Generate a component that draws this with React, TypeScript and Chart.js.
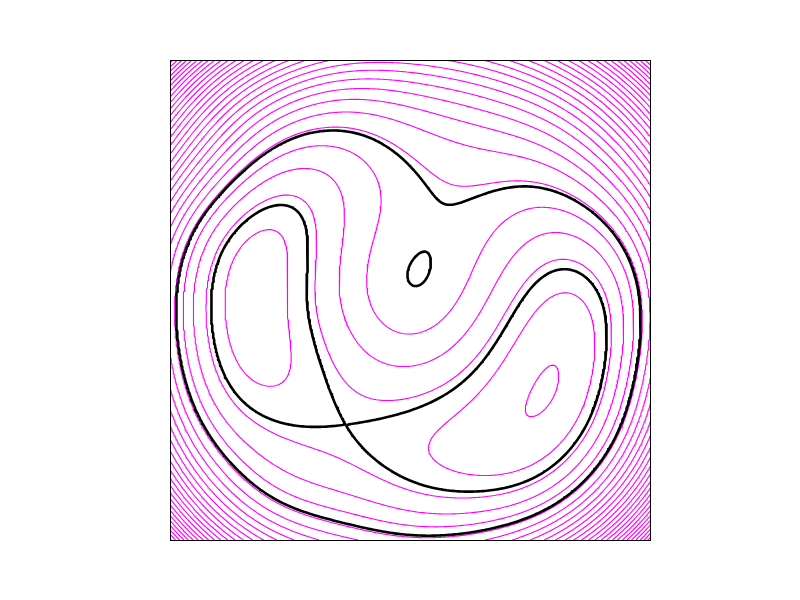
import { useEffect, useRef } from "react";
import { Chart, registerables } from "chart.js";

Chart.register(...registerables);

// Plot units: x 0..481 (left -> right), y 0..480 (bottom -> top)
const PLOT_W = 481;
const PLOT_H = 480;

// ---- contour samples ----
const blackLevels = [1.6, 4.8];
const magentaLevels = [0, 1, 2, 3, 4, 5, 6, 7, 8, 9, 10, 11, 12, 13, 14, 15, 16, 17, 18, 19, 20,
  21, 22, 23, 24, 25, 26, 27, 28, 29, 30, 31, 32, 33, 34, 35, 36, 37, 38, 39, 40, 41, 42, 43, 44, 45];

const outerBlackTrace = [[7,240],[10,183],[20,140],[40,100],[73,63],[123,30],[173,13],[240,6],[297,10],
  [363,27],[413,63],[447,110],[463,167],[468,217],[467,250],[453,283],[437,310],[413,333],[380,350],
  [347,353],[313,348],[283,341],[273,343],[260,357],[237,380],[210,397],[177,407],[157,408],[113,395],
  [80,373],[50,340],[27,303],[13,273]];
const bumpLoopTrace = [[257,287],[260,267],[253,255],[242,252],[238,267],[247,280]];
const figureEightTrace = [[137,240],[137,290],[130,317],[117,327],[90,330],[63,320],[50,303],[40,270],
  [38,240],[43,200],[63,150],[97,123],[140,112],[170,122],[157,140],[147,173],[140,217],
  [210,120],[243,130],[277,147],[310,177],[343,220],[370,257],[393,270],[417,263],[433,240],[438,207],
  [435,157],[417,107],[393,70],[363,57],[313,46],[280,47],[243,50],[203,73],[183,93]];
const magenta0Trace = [[387,177],[393,168],[387,150],[365,137],[363,150],[373,167]];
const magenta1LeftTrace = [[92,298],[110,287],[113,253],[113,187],[105,160],[92,157],[72,180],[55,230],[62,277],[78,297]];
const magenta1RightTrace = [[380,238],[410,230],[423,200],[417,150],[390,107],[347,80],[297,67],[263,77],
  [257,90],[270,110],[303,140],[340,190],[363,223]];
const magenta2Trace = [[143,240],[153,173],[170,147],[203,137],[260,153],[310,190],[350,247],[373,273],
  [393,278],[417,272],[437,250],[442,223],[90,337],[33,240],[110,108],[143,100],[177,87],[210,67],[240,45]];
const magenta3Trace = [[172,240],[170,270],[172,337],[160,363],[110,367],[177,207],[203,180],[240,175],
  [280,190],[313,240],[350,290],[377,305],[400,307],[423,293],[443,267],[450,240],[23,240],[110,83],
  [160,63],[210,43],[240,30],[430,105],[48,137]];
const magenta4Trace = [[200,240],[207,223],[237,208],[260,213],[286,240],[303,277],[323,310],[350,330],
  [383,332],[417,320],[440,300],[457,273],[462,240],[200,270],[207,303],[210,353],[197,377],[110,387],
  [15,240],[240,17],[440,107],[38,128]];
const magenta5Trace = [[157,412],[230,393],[280,360],[472,240],[5,240],[240,2]];

const ringLevelsA = [6, 7, 8, 9, 10, 11, 12];
const ringYAtX160 = [428, 440, 450, 458, 466, 473, 478];
const ringLevelsB = [6, 7, 8, 9, 10, 11];
const ringYAtX230 = [420, 437, 448, 458, 468, 477];

const cornerX = [0, 481, 0, 481];
const cornerY = [480, 480, 0, 0];
const cornerLevel = [30, 30, 26, 26];

// minima, saddle between lobes, small summit, saddle near the notch
const criticalX = [86, 378, 176, 249, 265];
const criticalY = [228, 157, 115, 268, 312];
const criticalLevel = [0.5, -0.05, 1.6, 4.9, 4.76];
const criticalSlopeWeight = [0.5, 0.5, 2.5, 0.8, 0.8];

// ---- smooth surface through the samples ----
const POLY: number[][] = [];
for (let d = 0; d <= 3; d++) for (let b = 0; b <= d; b++) POLY.push([d - b, b]);
const RBF_STEP = [-0.9, -0.6, -0.3, 0, 0.3, 0.6, 0.9];
const RBF: number[][] = [];
for (const cu of RBF_STEP) for (const cv of RBF_STEP) RBF.push([cu, cv]);
const SIG2 = 2 * 0.22 * 0.22;
const NP = POLY.length + 1; // + isotropic quartic
const NB = NP + RBF.length;

const toU = (x: number) => (x - PLOT_W / 2) / (PLOT_W / 2);
const toV = (y: number) => (y - PLOT_H / 2) / (PLOT_H / 2);

function feat(u: number, v: number, mode: number): Float64Array {
  const f = new Float64Array(NB);
  let k = 0;
  for (const [a, b] of POLY) {
    if (mode === 0) f[k] = Math.pow(u, a) * Math.pow(v, b);
    else if (mode === 1) f[k] = a === 0 ? 0 : a * Math.pow(u, a - 1) * Math.pow(v, b);
    else f[k] = b === 0 ? 0 : b * Math.pow(u, a) * Math.pow(v, b - 1);
    k++;
  }
  const r2 = u * u + v * v;
  f[k++] = mode === 0 ? r2 * r2 : mode === 1 ? 4 * u * r2 : 4 * v * r2;
  for (const [cu, cv] of RBF) {
    const du = u - cu, dv = v - cv;
    const g = Math.exp(-(du * du + dv * dv) / SIG2);
    if (mode === 0) f[k] = g;
    else if (mode === 1) f[k] = g * (-2 * du / SIG2);
    else f[k] = g * (-2 * dv / SIG2);
    k++;
  }
  return f;
}

function solve(A: number[][], b: number[]): number[] {
  const n = b.length;
  const M = A.map((r, i) => [...r, b[i]]);
  for (let c = 0; c < n; c++) {
    let p = c;
    for (let r = c + 1; r < n; r++) if (Math.abs(M[r][c]) > Math.abs(M[p][c])) p = r;
    [M[c], M[p]] = [M[p], M[c]];
    const piv = M[c][c] || 1e-12;
    for (let r = c + 1; r < n; r++) {
      const f = M[r][c] / piv;
      if (f === 0) continue;
      for (let k = c; k <= n; k++) M[r][k] -= f * M[c][k];
    }
  }
  const x = new Array(n).fill(0);
  for (let r = n - 1; r >= 0; r--) {
    let s = M[r][n];
    for (let k = r + 1; k < n; k++) s -= M[r][k] * x[k];
    x[r] = s / (M[r][r] || 1e-12);
  }
  return x;
}

function fitField(): number[] {
  const rows: { f: Float64Array; t: number; w: number }[] = [];
  const add = (pts: number[][], z: number, w = 1) =>
    pts.forEach(([x, y]) => rows.push({ f: feat(toU(x), toV(y), 0), t: z, w }));
  add(outerBlackTrace, blackLevels[1]);
  add(bumpLoopTrace, blackLevels[1]);
  add(figureEightTrace, blackLevels[0]);
  add(magenta0Trace, 0);
  add(magenta1LeftTrace, 1);
  add(magenta1RightTrace, 1);
  add(magenta2Trace, 2);
  add(magenta3Trace, 3);
  add(magenta4Trace, 4);
  add(magenta5Trace, 5);
  ringLevelsA.forEach((lv, k) => add([[160, ringYAtX160[k]]], lv));
  ringLevelsB.forEach((lv, k) => add([[230, ringYAtX230[k]]], lv));
  cornerLevel.forEach((lv, k) => add([[cornerX[k], cornerY[k]]], lv, 0.3));
  criticalLevel.forEach((lv, k) => {
    const u = toU(criticalX[k]), v = toV(criticalY[k]);
    const ws = criticalSlopeWeight[k];
    rows.push({ f: feat(u, v, 0), t: lv, w: 3 });
    rows.push({ f: feat(u, v, 1), t: 0, w: ws });
    rows.push({ f: feat(u, v, 2), t: 0, w: ws });
  });
  const A: number[][] = Array.from({ length: NB }, () => new Array(NB).fill(0));
  const b = new Array(NB).fill(0);
  for (const r of rows) {
    const w2 = r.w * r.w;
    for (let i = 0; i < NB; i++) {
      const fi = r.f[i] * w2;
      if (fi === 0) continue;
      b[i] += fi * r.t;
      for (let j = 0; j < NB; j++) A[i][j] += fi * r.f[j];
    }
  }
  for (let i = 0; i < NB; i++) A[i][i] += i < NP ? 1e-8 : 0.05;
  return solve(A, b);
}

function fieldAt(c: number[], x: number, y: number): number {
  const f = feat(toU(x), toV(y), 0);
  let s = 0;
  for (let i = 0; i < NB; i++) s += c[i] * f[i];
  return s;
}

const NX = 240;
const NY = 240;

function contourLines(z: Float64Array, level: number): { x: number; y: number }[][] {
  const W = NX + 1;
  const dx = PLOT_W / NX, dy = PLOT_H / NY;
  const pts = new Map<number, [number, number]>();
  const segA: number[] = [];
  const segB: number[] = [];
  const hId = (i: number, j: number) => 2 * (j * W + i);
  const vId = (i: number, j: number) => 2 * (j * W + i) + 1;
  for (let j = 0; j < NY; j++) {
    for (let i = 0; i < NX; i++) {
      const v00 = z[j * W + i], v10 = z[j * W + i + 1];
      const v01 = z[(j + 1) * W + i], v11 = z[(j + 1) * W + i + 1];
      const b0 = v00 > level, b1 = v10 > level, b2 = v11 > level, b3 = v01 > level;
      const e = [-1, -1, -1, -1];
      if (b0 !== b1) { const id = hId(i, j); if (!pts.has(id)) pts.set(id, [(i + (level - v00) / (v10 - v00)) * dx, j * dy]); e[0] = id; }
      if (b1 !== b2) { const id = vId(i + 1, j); if (!pts.has(id)) pts.set(id, [(i + 1) * dx, (j + (level - v10) / (v11 - v10)) * dy]); e[1] = id; }
      if (b3 !== b2) { const id = hId(i, j + 1); if (!pts.has(id)) pts.set(id, [(i + (level - v01) / (v11 - v01)) * dx, (j + 1) * dy]); e[2] = id; }
      if (b0 !== b3) { const id = vId(i, j); if (!pts.has(id)) pts.set(id, [i * dx, (j + (level - v00) / (v01 - v00)) * dy]); e[3] = id; }
      const present = e.filter((q) => q >= 0);
      if (present.length === 2) { segA.push(present[0]); segB.push(present[1]); }
      else if (present.length === 4) {
        const center = (v00 + v10 + v11 + v01) / 4 > level;
        const cutV10V01 = b0 ? center : !center;
        if (cutV10V01) { segA.push(e[0]); segB.push(e[1]); segA.push(e[2]); segB.push(e[3]); }
        else { segA.push(e[3]); segB.push(e[0]); segA.push(e[1]); segB.push(e[2]); }
      }
    }
  }
  const byEdge = new Map<number, number[]>();
  const link = (id: number, s: number) => { const l = byEdge.get(id); if (l) l.push(s); else byEdge.set(id, [s]); };
  for (let s = 0; s < segA.length; s++) { link(segA[s], s); link(segB[s], s); }
  const used = new Uint8Array(segA.length);
  const lines: { x: number; y: number }[][] = [];
  const walk = (start: number): number[] => {
    const out: number[] = [];
    let cur = start;
    for (;;) {
      const l = byEdge.get(cur) || [];
      let nxt = -1;
      for (const s of l) if (!used[s]) { nxt = s; break; }
      if (nxt < 0) break;
      used[nxt] = 1;
      cur = segA[nxt] === cur ? segB[nxt] : segA[nxt];
      out.push(cur);
    }
    return out;
  };
  for (let s = 0; s < segA.length; s++) {
    if (used[s]) continue;
    used[s] = 1;
    const fwd = walk(segB[s]);
    const bwd = walk(segA[s]);
    const ids = [...bwd.reverse(), segA[s], segB[s], ...fwd];
    lines.push(ids.map((id) => { const p = pts.get(id)!; return { x: p[0], y: p[1] }; }));
  }
  return lines;
}

function saddleValue(c: number[], x0: number, y0: number): number {
  let x = x0, y = y0;
  const h = 0.5;
  const f = (a: number, b: number) => fieldAt(c, a, b);
  for (let it = 0; it < 30; it++) {
    const fx = (f(x + h, y) - f(x - h, y)) / (2 * h);
    const fy = (f(x, y + h) - f(x, y - h)) / (2 * h);
    const fxx = (f(x + h, y) - 2 * f(x, y) + f(x - h, y)) / (h * h);
    const fyy = (f(x, y + h) - 2 * f(x, y) + f(x, y - h)) / (h * h);
    const fxy = (f(x + h, y + h) - f(x + h, y - h) - f(x - h, y + h) + f(x - h, y - h)) / (4 * h * h);
    const det = fxx * fyy - fxy * fxy;
    if (Math.abs(det) < 1e-12) break;
    let sx = (fyy * fx - fxy * fy) / det;
    let sy = (fxx * fy - fxy * fx) / det;
    const m = Math.hypot(sx, sy);
    if (m > 10) { sx *= 10 / m; sy *= 10 / m; }
    x -= sx; y -= sy;
    if (m < 1e-4) break;
  }
  if (Math.hypot(x - x0, y - y0) > 40) return blackLevels[0];
  return f(x, y) + 1e-6;
}

export default function App() {
  const ref = useRef<HTMLCanvasElement>(null);
  useEffect(() => {
    const coef = fitField();
    const W = NX + 1;
    const grid = new Float64Array((NX + 1) * (NY + 1));
    for (let j = 0; j <= NY; j++)
      for (let i = 0; i <= NX; i++)
        grid[j * W + i] = fieldAt(coef, (i * PLOT_W) / NX, (j * PLOT_H) / NY);

    const blackDraw = [saddleValue(coef, criticalX[2], criticalY[2]), blackLevels[1]];
    const datasets: any[] = [];
    for (const L of magentaLevels) {
      for (const line of contourLines(grid, L)) {
        datasets.push({
          data: line, showLine: true, borderColor: "#ff00ff", borderWidth: 1.1,
          pointRadius: 0, fill: false, tension: 0, order: 1,
        });
      }
    }
    for (const L of blackDraw) {
      for (const line of contourLines(grid, L)) {
        datasets.push({
          data: line, showLine: true, borderColor: "#000000", borderWidth: 2.6,
          pointRadius: 0, fill: false, tension: 0, order: 0,
          borderJoinStyle: "round", borderCapStyle: "round",
        });
      }
    }
    const frame = {
      id: "frame",
      afterDatasetsDraw(chart: any) {
        const { ctx, chartArea: a } = chart;
        ctx.save();
        ctx.strokeStyle = "#000";
        ctx.lineWidth = 1;
        ctx.strokeRect(a.left + 0.5, a.top + 0.5, a.right - a.left - 1, a.bottom - a.top);
        ctx.restore();
      },
    };
    const chart = new Chart(ref.current!, {
      type: "scatter",
      data: { datasets },
      options: {
        animation: false,
        responsive: false,
        events: [],
        layout: { padding: { left: 170, right: 149, top: 60, bottom: 60 } },
        scales: {
          x: { type: "linear", min: 0, max: PLOT_W, display: false },
          y: { type: "linear", min: 0, max: PLOT_H, display: false },
        },
        plugins: { legend: { display: false }, tooltip: { enabled: false } },
      },
      plugins: [frame],
    } as any);
    return () => chart.destroy();
  }, []);
  return (
    <div style={{ position: "fixed", left: 0, top: 0, width: 800, height: 600, background: "#fff" }}>
      <canvas ref={ref} width={800} height={600} style={{ display: "block" }} />
    </div>
  );
}
